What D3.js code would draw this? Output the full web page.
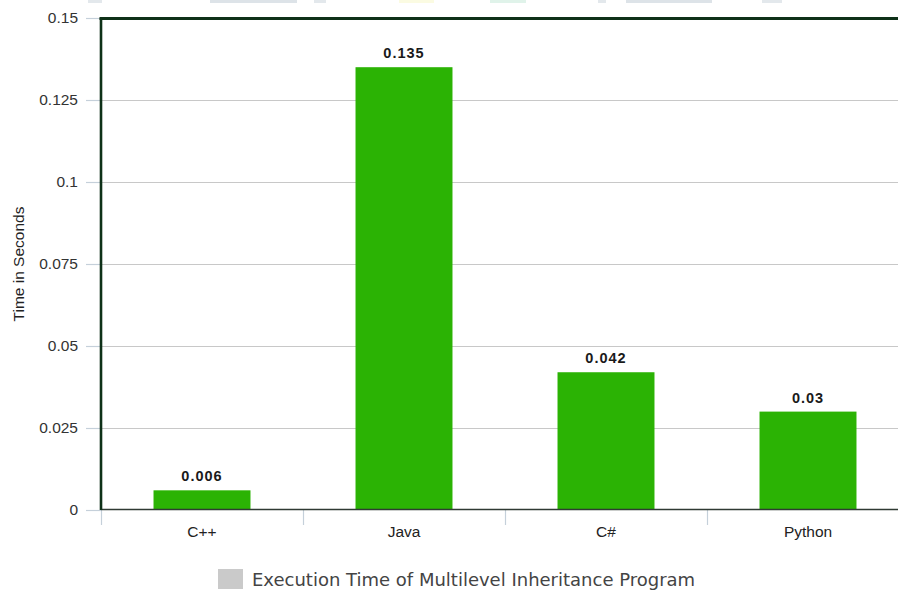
<!DOCTYPE html>
<html>
<head>
<meta charset="utf-8">
<script src="https://cdn.jsdelivr.net/npm/d3@7"></script>
<style>
  html, body { margin: 0; padding: 0; background: #fff; }
  svg { display: block; }
</style>
</head>
<body>
<svg id="chart" width="898" height="590"></svg>
<script>
// Execution time per language
const categories = ["C++", "Java", "C#", "Python"];
const times = [0.006, 0.135, 0.042, 0.03];
const valueLabels = ["0.006", "0.135", "0.042", "0.03"];
const yTicks = [0, 0.025, 0.05, 0.075, 0.1, 0.125, 0.15];
const yTickLabels = ["0", "0.025", "0.05", "0.075", "0.1", "0.125", "0.15"];
const seriesName = "Execution Time of Multilevel Inheritance Program";
const axisTitle = "Time in Seconds";

const svg = d3.select("#chart");
const plot = { left: 101, right: 909, top: 18, bottom: 510 };

const x = d3.scaleBand()
  .domain(categories)
  .range([plot.left, plot.right])
  .paddingInner(0.52)
  .paddingOuter(0.26);

const y = d3.scaleLinear()
  .domain([0, 0.15])
  .range([plot.bottom, plot.top]);

// faint header strip shapes above the plot
const header = [
  { x0: 88, x1: 102, c: "#e3e8ec" },
  { x0: 210, x1: 297, c: "#dde3e8" },
  { x0: 314, x1: 326, c: "#e3e8ec" },
  { x0: 399, x1: 434, c: "#fbfbe2" },
  { x0: 490, x1: 526, c: "#e0f3ea" },
  { x0: 598, x1: 606, c: "#e3e8ec" },
  { x0: 626, x1: 712, c: "#dde3e8" },
  { x0: 762, x1: 782, c: "#e3e8ec" }
];
svg.append("g").selectAll("rect").data(header).join("rect")
  .attr("x", d => d.x0).attr("y", 0)
  .attr("width", d => d.x1 - d.x0).attr("height", 3)
  .attr("fill", d => d.c);

// horizontal gridlines
svg.append("g")
  .selectAll("line")
  .data(yTicks.filter(v => v > 0 && v < 0.15))
  .join("line")
  .attr("x1", plot.left).attr("x2", 898)
  .attr("y1", d => Math.round(y(d)) + 0.5).attr("y2", d => Math.round(y(d)) + 0.5)
  .attr("stroke", "#c8c8c8").attr("stroke-width", 1.2);

// y axis ticks and labels
const yAxis = d3.axisLeft(y)
  .tickValues(yTicks)
  .tickFormat((d, i) => yTickLabels[i])
  .tickSize(15)
  .tickPadding(8);
const gy = svg.append("g").attr("transform", `translate(${plot.left},0)`).call(yAxis);
gy.select(".domain").remove();
gy.selectAll(".tick line").attr("stroke", "#c5d0da").attr("stroke-width", 1.2);
gy.selectAll(".tick text")
  .attr("fill", "#333")
  .style("font-family", "'Liberation Sans', Arial, sans-serif")
  .style("font-size", "15.5px");

// x axis ticks at band boundaries
const boundaries = categories.map(c => x(c) - x.step() * x.paddingInner() / 2);
svg.append("g").selectAll("line").data(boundaries).join("line")
  .attr("x1", d => Math.round(d) + 0.5).attr("x2", d => Math.round(d) + 0.5)
  .attr("y1", plot.bottom).attr("y2", plot.bottom + 15)
  .attr("stroke", "#c5d0da").attr("stroke-width", 1.2);

const xAxis = d3.axisBottom(x).tickSize(0).tickPadding(16);
const gx = svg.append("g").attr("transform", `translate(0,${plot.bottom})`).call(xAxis);
gx.select(".domain").remove();
gx.selectAll(".tick text")
  .attr("fill", "#222")
  .style("font-family", "'Liberation Sans', Arial, sans-serif")
  .style("font-size", "15.5px");

// bars
svg.append("g").selectAll("rect").data(categories).join("rect")
  .attr("x", d => x(d))
  .attr("y", (d, i) => y(times[i]))
  .attr("width", x.bandwidth())
  .attr("height", (d, i) => y(0) - y(times[i]))
  .attr("fill", "#2bb304");

// value labels
svg.append("g").selectAll("text").data(categories).join("text")
  .attr("x", d => x(d) + x.bandwidth() / 2)
  .attr("y", (d, i) => y(times[i]) - 9)
  .attr("text-anchor", "middle")
  .attr("fill", "#1a1a1a")
  .style("font-family", "'Liberation Sans', Arial, sans-serif")
  .style("font-size", "14.5px")
  .style("font-weight", "bold")
  .style("letter-spacing", "1px")
  .text((d, i) => valueLabels[i]);

// baseline
svg.append("line")
  .attr("x1", plot.left).attr("x2", 898)
  .attr("y1", plot.bottom - 0.5).attr("y2", plot.bottom - 0.5)
  .attr("stroke", "#2f3a33").attr("stroke-width", 1.5);

// top frame and left axis line
svg.append("line")
  .attr("x1", plot.left - 1.5).attr("x2", 898)
  .attr("y1", plot.top + 0.5).attr("y2", plot.top + 0.5)
  .attr("stroke", "#0e3118").attr("stroke-width", 3);
svg.append("line")
  .attr("x1", plot.left).attr("x2", plot.left)
  .attr("y1", plot.top).attr("y2", plot.bottom)
  .attr("stroke", "#0e3118").attr("stroke-width", 2.6);

// y axis title
svg.append("text")
  .attr("transform", `translate(24,${(plot.top + plot.bottom) / 2 + 0}) rotate(-90)`)
  .attr("text-anchor", "middle")
  .attr("fill", "#222")
  .style("font-family", "'Liberation Sans', Arial, sans-serif")
  .style("font-size", "15.5px")
  .text(axisTitle);

// legend
const legend = svg.append("g");
legend.append("rect")
  .attr("x", 218).attr("y", 569).attr("width", 25).attr("height", 20)
  .attr("fill", "#cacaca");
legend.append("text")
  .attr("x", 252).attr("y", 586)
  .attr("fill", "#444")
  .style("font-family", "'DejaVu Sans', sans-serif")
  .style("font-size", "18px")
  .text(seriesName);
</script>
</body>
</html>
